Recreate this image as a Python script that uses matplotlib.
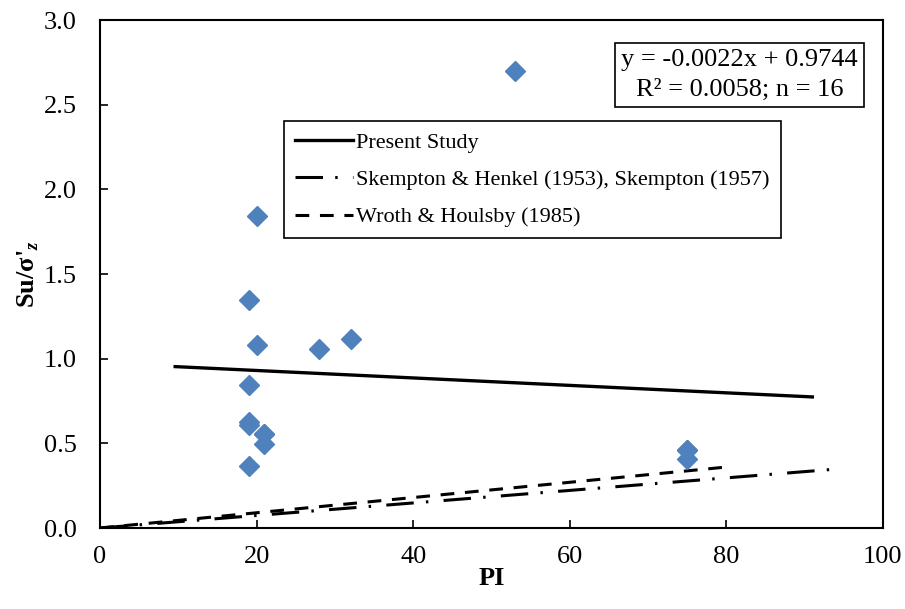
import matplotlib
matplotlib.use("Agg")
import matplotlib.pyplot as plt
import numpy as np

# measured points (PI, Su/sigma'z)
pi_vals = [53, 20, 19, 20, 28, 32, 19, 19, 19, 21, 21, 19, 75, 75, 75, 21]
su_vals = [2.70, 1.84, 1.345, 1.08, 1.055, 1.115, 0.845, 0.625, 0.610, 0.555, 0.497, 0.366,
           0.462, 0.410, 0.462, 0.555]

# trend lines
fit_slope, fit_int = -0.0022, 0.9744
fit_range = [9.6, 91]
skempton_slope, skempton_range = 0.0037, [0, 94]
wroth_slope, wroth_range = 0.0045, [0, 80]

plt.rcParams["font.family"] = "Liberation Serif"
plt.rcParams["mathtext.fontset"] = "custom"
plt.rcParams["mathtext.rm"] = "Liberation Serif"
plt.rcParams["mathtext.bf"] = "Liberation Serif:bold:italic"

fig = plt.figure(figsize=(9.05, 6.09), dpi=100)
ax = fig.add_axes([0.1105, 0.133, 0.865, 0.834])

ax.plot(pi_vals, su_vals, "D", ms=10.5, color="#4F81BD", zorder=3)

xf = np.array(fit_range)
ax.plot(xf, fit_slope * xf + fit_int, "-", color="black", lw=2.4, label="Present Study")
xs = np.array(skempton_range)
ax.plot(xs, skempton_slope * xs, color="black", lw=2.2, ls=(0, (9, 4, 0.8, 5)),
        label="Skempton & Henkel (1953), Skempton (1957)")
xw = np.array(wroth_range)
ax.plot(xw, wroth_slope * xw, color="black", lw=2.2, ls=(0, (4.5, 3.5)),
        label="Wroth & Houlsby (1985)")

ax.set_xlim(0, 100)
ax.set_ylim(0, 3.0)
ax.set_xticks(np.arange(0, 101, 20))
ax.set_yticks(np.arange(0, 3.01, 0.5))
ax.yaxis.set_major_formatter(matplotlib.ticker.FormatStrFormatter("%.1f"))
ax.tick_params(direction="in", length=6, width=1.2, labelsize=19, pad=13)
ax.tick_params(axis="y", pad=17)
for s in ax.spines.values():
    s.set_linewidth(1.5)

ax.set_xlabel("PI", fontsize=19, fontweight="bold", labelpad=-1)
ax.set_ylabel(r"Su/σ'$_\mathbf{z}$", fontsize=19, fontweight="bold", labelpad=2)

leg = ax.legend(loc="upper left", bbox_to_anchor=(0.235, 0.801), fontsize=16,
                frameon=True, fancybox=False, edgecolor="black", framealpha=1,
                handlelength=2.6, handletextpad=0.15, borderaxespad=0, borderpad=0.5,
                labelspacing=0.75)
leg.get_frame().set_linewidth(1.2)

ax.text(0.817, 0.892, "y = -0.0022x + 0.9744\nR² = 0.0058; n = 16", transform=ax.transAxes,
        ha="center", va="center", fontsize=19, linespacing=1.5,
        bbox=dict(boxstyle="square,pad=0.22", fc="white", ec="black", lw=1.2))

fig.savefig("out.png", dpi=100)
